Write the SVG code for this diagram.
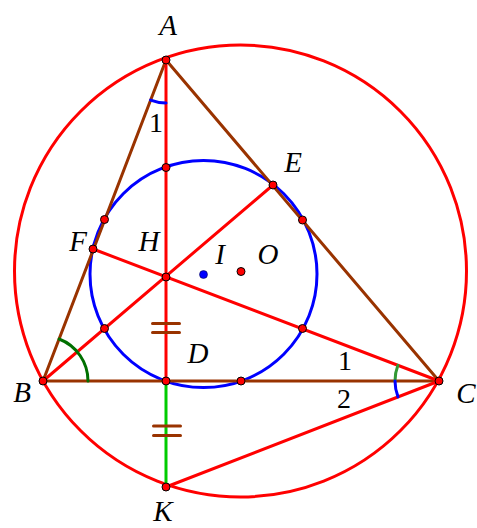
<svg xmlns="http://www.w3.org/2000/svg" width="477" height="528" viewBox="0 0 477 528">
<style>
.ln{fill:none;stroke-width:3;stroke-linecap:round}
.red{stroke:#ff0000}
.brown{stroke:#993300}
.blue{stroke:#0000ff}
.pt{fill:#ff0000;stroke:#000;stroke-width:1}
.lbl{font-family:"Liberation Serif","Times New Roman",serif;font-style:italic;font-size:29px;fill:#000;text-anchor:middle}
.num{font-family:"Liberation Serif","Times New Roman",serif;font-size:28px;fill:#000;text-anchor:middle}
</style>
<rect width="477" height="528" fill="#fff"/>
<g id="circumcircle"><circle class="ln red" cx="240.5" cy="271" r="226"/></g>
<g id="ninepointcircle"><circle class="ln blue" cx="203.5" cy="274" r="113.5"/></g>
<g id="connectors">
<line class="ln brown" x1="166" y1="60" x2="43" y2="381"/>
<line class="ln brown" x1="166" y1="60" x2="439" y2="381"/>
<line class="ln brown" x1="43" y1="381" x2="439" y2="381"/>
<line class="ln red" x1="166" y1="60" x2="166" y2="381"/>
<line class="ln" stroke="#00cc00" x1="166" y1="381" x2="166" y2="487"/>
<line class="ln red" x1="43" y1="381" x2="273" y2="185"/>
<line class="ln red" x1="439" y1="381" x2="93" y2="249"/>
<line class="ln red" x1="439" y1="381" x2="166" y2="487"/>
<path class="ln blue" d="M150.6 100.1 A43 43 0 0 0 166 103"/>
<path class="ln" stroke="#007000" d="M88 381 A45 45 0 0 0 59.1 339"/>
<path class="ln" stroke="#339933" d="M397.9 365.3 A44 44 0 0 0 395 381"/>
<path class="ln blue" d="M395 381 A44 44 0 0 0 398 396.9"/>
<g class="ln brown" stroke-linecap="butt">
<line x1="152.5" y1="323.5" x2="179.5" y2="323.5"/>
<line x1="152.5" y1="332.5" x2="179.5" y2="332.5"/>
<line x1="153.5" y1="426" x2="180.5" y2="426"/>
<line x1="153.5" y1="435.5" x2="180.5" y2="435.5"/>
</g>
</g>
<g id="points">
<circle class="pt" cx="166" cy="60" r="4"/>
<circle class="pt" cx="43" cy="381" r="4"/>
<circle class="pt" cx="439" cy="381" r="4"/>
<circle class="pt" cx="166" cy="381" r="4"/>
<circle class="pt" cx="241" cy="381" r="4"/>
<circle class="pt" cx="166" cy="487" r="4"/>
<circle class="pt" cx="166" cy="277" r="4"/>
<circle class="pt" cx="273" cy="185" r="4"/>
<circle class="pt" cx="93" cy="249" r="4"/>
<circle class="pt" cx="166" cy="167.5" r="4"/>
<circle class="pt" cx="104.5" cy="219.5" r="4"/>
<circle class="pt" cx="302.5" cy="220" r="4"/>
<circle class="pt" cx="104.5" cy="328.5" r="4"/>
<circle class="pt" cx="302.5" cy="328.5" r="4"/>
<circle class="pt" cx="241" cy="271.5" r="4"/>
<circle cx="203.5" cy="274.5" r="4" fill="#0000ff" stroke="#000033" stroke-width="0.5"/>
</g>
<g id="labels">
<text class="lbl" x="168" y="35">A</text>
<text class="lbl" x="22" y="402">B</text>
<text class="lbl" x="466" y="403">C</text>
<text class="lbl" x="198" y="363">D</text>
<text class="lbl" x="293" y="172">E</text>
<text class="lbl" x="78" y="251">F</text>
<text class="lbl" x="149" y="251">H</text>
<text class="lbl" x="220" y="264">I</text>
<text class="lbl" x="268" y="264">O</text>
<text class="lbl" x="163" y="521">K</text>
<text class="num" x="156" y="132">1</text>
<text class="num" x="345" y="370">1</text>
<text class="num" x="344" y="408">2</text>
</g>
</svg>
